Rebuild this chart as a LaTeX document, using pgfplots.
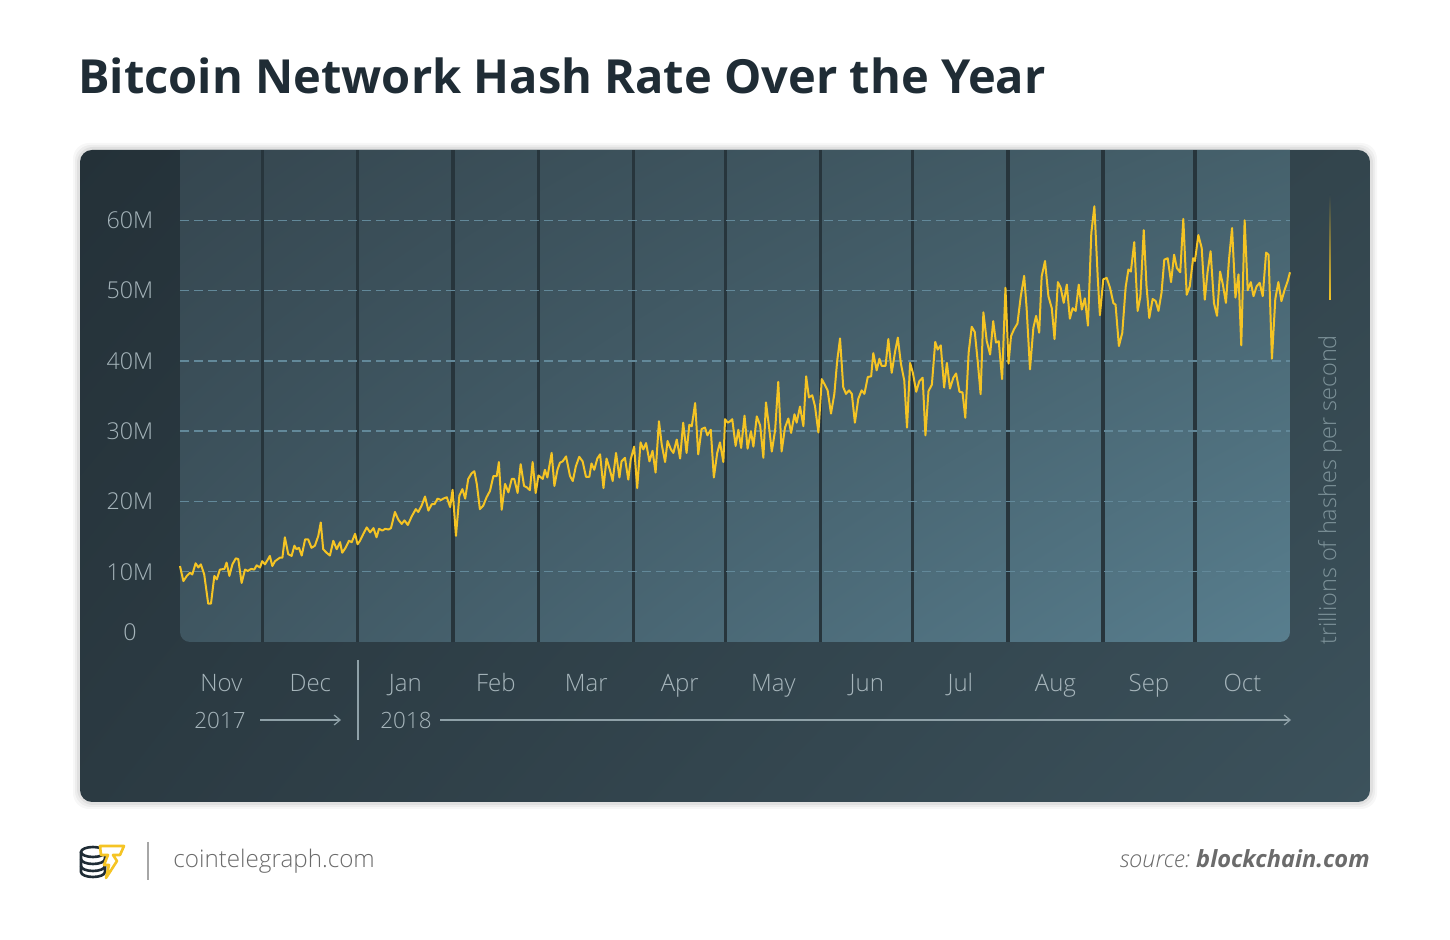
\documentclass[border=0pt]{standalone}
\usepackage{pgfplots}
\pgfplotsset{compat=1.18}
\usepackage{pgfplotstable}
\usetikzlibrary{shadings,arrows.meta}
\usepackage{fontspec}
\setmainfont{Open Sans}
\newfontfamily\osl{Open Sans Light}
\definecolor{titlec}{HTML}{1F2C35}
\definecolor{panUL}{HTML}{243138}
\definecolor{panUR}{HTML}{33454D}
\definecolor{panLL}{HTML}{2B3A42}
\definecolor{panLR}{HTML}{3C525C}
\definecolor{pltUL}{HTML}{35464F}
\definecolor{pltUR}{HTML}{45606B}
\definecolor{pltLL}{HTML}{3F5661}
\definecolor{pltLR}{HTML}{587E8E}
\definecolor{sepc}{HTML}{27353C}
\definecolor{gridc}{HTML}{63899A}
\definecolor{linec}{HTML}{F5C424}
\definecolor{tickc}{HTML}{A6B5BB}
\definecolor{sidec}{HTML}{7D9299}
\definecolor{arrowc}{HTML}{8FA1A8}
\definecolor{footc}{HTML}{6B6B6B}

\pgfplotstableread{
d v
0 10.8
1.1 8.66
2.2 9.38
3.3 9.86
4.0 9.6
5.1 11.2
6.0 10.6
6.8 11.05
7.9 9.6
9.2 5.45
10.1 5.45
11.2 9.4
12.0 8.9
13.0 10.3
14.5 10.4
15.2 11.3
16.1 9.4
17.1 11.05
18.2 11.9
19.0 11.8
20.1 8.4
21.2 10.3
22.1 10.1
23.2 10.4
24.2 10.3
25.0 10.9
26.1 10.6
26.8 11.5
27.7 11.05
28.6 11.7
29.3 12.25
30.1 10.8
31.0 11.5
32.6 12.0
33.4 12.0
34.2 14.9
35.3 12.5
36.4 12.25
37.3 13.7
38.0 13.2
38.8 13.4
39.7 12.3
40.8 14.6
41.8 14.6
42.9 13.4
44.0 13.7
45.1 15.1
45.9 17.0
46.7 13.2
47.8 12.7
48.9 12.3
50.0 14.4
51.1 13.2
52.2 14.2
52.9 12.7
54.0 13.4
55.1 14.4
56.0 14.2
57.1 15.4
57.9 13.9
58.7 14.4
59.8 15.4
60.9 16.3
62.0 15.6
63.1 16.2
64.1 14.9
64.9 16.1
66.0 15.85
66.9 16.1
68.0 16.0
68.8 16.2
70.1 18.5
71.2 17.4
72.3 16.8
73.2 17.3
74.3 16.65
75.6 17.9
76.9 18.9
77.7 18.5
78.8 19.4
79.9 20.7
81.0 18.7
82.1 19.6
83.0 19.6
84.0 20.4
85.1 20.2
85.9 20.4
87.0 20.6
88.1 19.2
88.9 21.65
90.0 15.1
91.1 20.8
92.1 21.75
93.0 20.4
94.0 23.2
95.1 24.0
96.0 24.3
96.8 22.45
97.8 18.9
98.9 19.4
100.0 20.6
101.1 21.5
102.2 23.6
103.3 23.6
104.0 25.6
104.9 18.8
106.0 22.5
107.1 21.3
108.2 23.2
109.0 23.2
110.1 21.2
111.1 25.3
112.2 22.2
113.1 22.0
114.1 21.6
115.0 25.6
116.0 21.2
116.9 23.7
118.3 23.2
119.0 24.5
119.8 23.4
121.2 26.9
122.1 22.2
123.1 24.5
123.9 25.5
124.8 25.7
125.9 26.4
127.2 23.6
128.1 22.9
129.1 25.0
130.2 26.35
131.3 25.7
132.4 23.5
133.5 23.5
134.2 25.4
135.1 24.5
136.1 26.1
137.0 26.7
138.1 21.9
139.1 26.1
140.2 24.5
141.1 22.9
142.2 26.9
143.3 23.4
144.0 25.7
145.1 26.2
146.2 23.1
147.0 26.0
148.1 27.8
149.1 21.9
150.2 28.4
151.1 27.4
152.0 28.3
153.1 25.7
154.1 27.2
155.1 24.1
156.2 31.4
157.1 28.1
158.2 25.6
159.0 28.6
160.1 27.4
160.9 26.9
162.0 28.8
163.1 26.1
164.1 31.2
165.2 26.9
166.1 30.9
166.9 30.7
168.0 34.0
169.0 26.7
170.1 30.3
171.2 30.5
172.0 29.4
173.1 30.2
174.1 23.4
175.2 26.9
176.1 28.4
177.2 25.6
177.75 31.7
178.6 31.2
179.4 31.4
180.1 31.7
181.2 27.9
182.1 30.2
183.0 27.6
184.1 32.2
185.1 27.5
186.2 30.0
187.0 27.8
188.1 32.1
189.2 30.8
190.25 26.2
191.1 34.1
192.2 30.2
193.0 27.1
194.1 30.2
195.1 37.0
196.2 27.1
197.3 30.5
198.4 31.8
199.3 29.75
200.4 32.4
201.1 31.2
202.2 33.5
203.3 30.7
204.2 37.8
205.1 34.8
206.2 35.1
207.1 33.5
208.2 29.8
209.3 37.4
210.4 36.5
211.2 35.8
212.3 32.5
213.4 35.3
214.3 39.9
215.25 43.2
216.3 36.25
217.2 35.3
218.2 35.8
219.1 35.3
220.1 31.2
221.2 34.6
222.3 35.8
223.2 35.3
224.3 37.7
225.4 37.8
226.1 41.1
227.2 38.65
228.1 40.3
228.8 39.3
230.1 39.3
231.0 43.1
232.1 38.3
233.2 41.3
234.1 43.3
235.1 39.6
236.2 37.2
237.1 30.5
238.1 39.7
239.0 38.3
240.1 35.6
241.1 37.1
242.2 37.6
243.1 29.4
244.1 35.7
245.2 36.6
246.3 42.7
247.1 41.6
248.1 42.2
249.2 36.2
250.1 39.7
251.1 36.05
252.2 37.6
253.1 38.2
254.2 35.6
255.2 35.5
256.1 31.9
257.2 41.2
258.2 44.85
259.2 44.1
260.2 39.7
261.1 35.25
262.0 46.9
263.1 42.8
264.2 40.9
265.2 45.65
266.1 42.6
267.0 42.8
268.1 37.4
269.2 50.4
270.2 39.6
271.0 43.5
272.0 44.5
273.1 45.3
274.2 49.2
275.3 52.1
276.1 47.5
277.2 38.8
278.3 44.7
279.2 46.4
280.2 44.0
281.0 52.0
282.1 54.2
283.2 49.2
284.3 47.5
285.2 43.1
286.3 51.2
287.2 50.4
288.2 48.25
289.2 50.85
290.2 46.0
291.1 47.5
292.1 47.1
293.1 50.85
294.1 47.3
295.1 48.9
296.1 45.0
297.2 58.2
298.2 62.0
299.3 51.8
300.0 46.5
301.1 51.6
302.2 51.8
303.3 50.4
304.4 48.2
305.1 48.0
306.2 42.1
307.3 44.0
308.4 50.5
309.3 53.0
310.1 52.7
311.2 56.9
312.3 47.1
313.2 49.1
314.3 58.6
315.2 50.6
316.1 46.1
317.2 48.8
318.2 48.5
319.1 47.1
320.1 49.7
321.0 54.4
322.1 54.6
323.2 51.2
324.2 55.1
325.1 53.2
326.2 52.6
327.2 60.2
328.3 49.4
329.3 50.6
330.4 54.6
331.0 54.2
332.1 57.9
333.2 56.05
334.2 48.7
335.1 52.6
336.1 55.6
337.2 48.2
338.2 46.4
339.2 52.7
340.1 50.85
341.1 48.25
342.1 54.4
343.1 58.9
344.2 49.0
345.2 52.3
346.1 42.2
347.2 60.0
348.2 50.05
349.2 51.2
350.1 49.2
351.1 50.6
352.1 51.1
353.1 49.2
354.2 55.4
355.0 55.1
356.1 40.3
357.2 48.8
358.2 51.2
359.2 48.5
360.2 50.05
361.2 51.3
362.0 52.6
}\hashdata

\begin{document}
\begin{tikzpicture}[x=0.5pt,y=0.5pt]
\path[fill=white,use as bounding box] (0,0) rectangle (1450,940);
% soft shadow
\foreach \s/\o in {7/0.03,5/0.04,3/0.05}{
  \fill[black,opacity=\o,rounded corners=8pt] (80-\s,138-\s) rectangle (1370+\s,790+\s);
}
% panel
\begin{scope}
\clip[rounded corners=6pt] (80,138) rectangle (1370,790);
\shade[upper left=panUL, upper right=panUR, lower left=panLL, lower right=panLR] (80,138) rectangle (1370,790);
\begin{scope}
\clip (0,0) rectangle (1450,790);
\shade[rounded corners=5pt, upper left=pltUL, upper right=pltUR, lower left=pltLL, lower right=pltLR] (180,298) rectangle (1290,800);
\end{scope}
\end{scope}
% title
\node[anchor=base west, inner sep=0pt, text=titlec, font=\bfseries\fontsize{23.5}{28}\selectfont] at (78,846) {Bitcoin Network Hash Rate Over the Year};

\begin{axis}[
  at={(90pt,149pt)}, anchor=south west,
  scale only axis, width=555pt, height=246pt,
  xmin=0, xmax=362, ymin=0, ymax=70,
  axis line style={draw=none},
  major tick length=0pt, minor tick length=0pt,
  ytick={10,20,30,40,50,60},
  yticklabels={10M,20M,30M,40M,50M,60M},
  extra y ticks={1.42}, extra y tick labels={0},
  extra y tick style={grid=none},
  ymajorgrids,
  major grid style={dash pattern=on 4.5pt off 2.5pt, color=gridc, line width=0.7pt},
  xtick={13.5,42.5,73.5,103,132.5,163,193.5,224,254.5,285.5,316,346.5},
  xticklabels={Nov,Dec,Jan,Feb,Mar,Apr,May,Jun,Jul,Aug,Sep,Oct},
  minor xtick={27,58,89,117,148,178,209,239,270,301,331},
  xminorgrids,
  minor grid style={color=sepc, line width=1.6pt, solid},
  yticklabel style={anchor=center, xshift=-25pt, text=tickc, font=\osl\fontsize{11.6}{14}\selectfont},
  xticklabel style={anchor=base, yshift=-25pt, text=tickc, font=\osl\fontsize{12}{14}\selectfont},
  /pgf/number format/assume math mode=true,
  clip=false,
]
\addplot[color=linec, line width=1pt, line join=round, mark=none] table[x=d, y=v] {\hashdata};
\end{axis}

% year row
\node[anchor=base, text=tickc, font=\osl\fontsize{11.2}{14}\selectfont] at (220,211) {2017};
\draw[arrowc, line width=0.6pt, -{Straight Barb[length=3pt,width=5pt]}] (260,220) -- (341,220);
\draw[arrowc, line width=0.6pt] (358,280) -- (358,200);
\node[anchor=base, text=tickc, font=\osl\fontsize{11.2}{14}\selectfont] at (406,211) {2018};
\draw[arrowc, line width=0.6pt, -{Straight Barb[length=3pt,width=5pt]}] (440,220) -- (1291,220);

% right side label
\node[rotate=90, text=sidec, font=\osl\fontsize{11.75}{14}\selectfont] at (1330,450) {trillions of hashes per second};
\shade[top color=panUR, bottom color=linec] (1329.2,640) rectangle (1330.8,745);

% footer
\begin{scope}[line width=1.3pt, titlec]
\draw (81,88) -- (81,68) arc[start angle=180, end angle=360, x radius=12, y radius=5] -- (105,88);
\draw (93,88) ellipse[x radius=12, y radius=5];
\draw (81,81) arc[start angle=180, end angle=360, x radius=12, y radius=5];
\draw (81,74) arc[start angle=180, end angle=360, x radius=12, y radius=5];
\end{scope}
\filldraw[fill=white, draw=linec, line width=1.3pt, line join=round]
  (100,94) -- (124,94) -- (120,85) -- (113,85) -- (117,79) -- (106,62) -- (109,75) -- (104,75) -- (108,85) -- (101,85) -- cycle;
\draw[color=footc!60, line width=0.8pt] (148,98) -- (148,60);
\node[anchor=base west, inner sep=0pt, text=footc, font=\osl\fontsize{12.1}{15}\selectfont] at (173,72) {cointelegraph.com};
\node[anchor=base east, inner sep=0pt, text=footc, font=\fontsize{11.8}{15}\selectfont] at (1370,72) {{\osl\itshape source:}\hspace{0.25em}\textbf{\itshape blockchain.com}};
\end{tikzpicture}
\end{document}
